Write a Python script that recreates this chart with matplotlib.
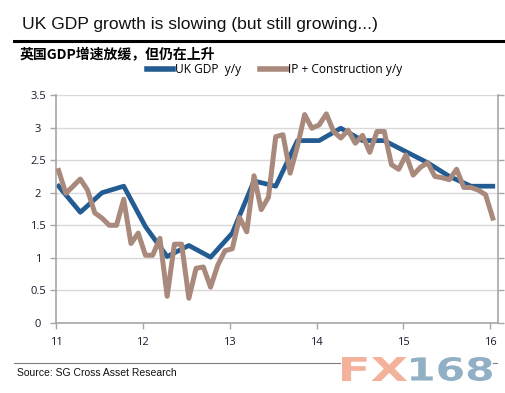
import matplotlib
matplotlib.use("Agg")
import numpy as np
import matplotlib.pyplot as plt
from matplotlib.textpath import TextPath
from matplotlib.patches import PathPatch
from matplotlib.font_manager import FontProperties
from matplotlib.transforms import Affine2D

# GDP y/y, quarterly
gdp_yy = [2.10, 1.70, 2.00, 2.10, 1.48, 1.02, 1.19, 1.01, 1.38, 2.18, 2.10,
          2.80, 2.80, 2.99, 2.80, 2.80, 2.63, 2.46, 2.25, 2.10, 2.10]

# IP + construction y/y, monthly
ip_con_yy = [2.34, 1.99, 2.10, 2.21, 2.04, 1.69, 1.61, 1.50, 1.50, 1.90,
             1.22, 1.38, 1.04, 1.04, 1.30, 0.41, 1.21, 1.21, 0.38, 0.84,
             0.86, 0.55, 0.89, 1.11, 1.14, 1.62, 1.40, 2.26, 1.74, 1.93,
             2.86, 2.89, 2.30, 2.71, 3.20, 2.99, 3.04, 3.21, 2.94, 2.84,
             2.96, 2.76, 2.88, 2.62, 2.94, 2.94, 2.43, 2.36, 2.58, 2.27,
             2.39, 2.46, 2.25, 2.23, 2.20, 2.36, 2.08, 2.08, 2.04, 1.97,
             1.61]

year_ticks = [11, 12, 13, 14, 15, 16]
y_ticks = [0, 0.5, 1, 1.5, 2, 2.5, 3, 3.5]
y_labels = ["0", "0.5", "1", "1.5", "2", "2.5", "3", "3.5"]

start = 11.03
x_gdp = start + np.arange(len(gdp_yy)) * 0.25
x_ip = start + np.arange(len(ip_con_yy)) / 12.0

blue = "#235B93"
brown = "#A8897B"

W, H = 505, 393
fig = plt.figure(figsize=(W/100, H/100), dpi=100)
ax = fig.add_axes([56/W, 1 - 323/H, (498 - 56)/W, (323 - 95)/H])

ax.plot(x_gdp, gdp_yy, color=blue, lw=3.4, zorder=2, label="UK GDP  y/y")
ax.plot(x_ip, ip_con_yy, color=brown, lw=3.6, zorder=3, label="IP + Construction y/y")

ax.set_xlim(11, 16.09)
ax.set_ylim(0, 3.5)
ax.set_yticks(y_ticks)
ax.set_yticklabels(y_labels)
ax.set_xticks(year_ticks)
ax.set_xticklabels([str(t) for t in year_ticks])
ax.grid(axis="y", color="#D9D9D9", lw=1)
ax.set_axisbelow(True)

ax.spines["top"].set_visible(False)
for s in ["left", "bottom", "right"]:
    ax.spines[s].set_color("#A6A6A6")
    ax.spines[s].set_linewidth(1.2)

ax.tick_params(axis="both", colors="#A6A6A6", length=4, width=1,
               labelcolor="#1a1a2e", labelsize=8)
ax.tick_params(axis="y", right=True, direction="out", pad=0)
ax.tick_params(axis="x", pad=6)
for lab in ax.get_yticklabels():
    lab.set_horizontalalignment("center")
    lab.set_x(-12.5/442)
for lab in ax.get_xticklabels() + ax.get_yticklabels():
    lab.set_fontfamily("Open Sans")

leg = fig.legend(loc="center left", bbox_to_anchor=(141/W, 1 - 70/H),
                 ncol=2, frameon=False, handlelength=2.2,
                 handletextpad=0.15, columnspacing=1.6, borderpad=0,
                 prop={"family": "Open Sans", "size": 8.6})
for ln in leg.get_lines():
    ln.set_linewidth(4)

fig.text(22/W, 1 - 24/H, "UK GDP growth is slowing (but still growing...)",
         fontsize=12.6, family="Liberation Sans", va="center", ha="left", color="#111111")
fig.add_artist(plt.Line2D([14/W, 1.0], [1 - 41/H, 1 - 41/H], color="black", lw=2.2))
fig.text(20/W, 1 - 55/H, "英国GDP增速放缓，但仍在上升", fontsize=10,
         family=["Noto Sans CJK SC", "DejaVu Sans"], weight="bold", va="center", ha="left")

fig.add_artist(plt.Line2D([14/W, 340/W], [1 - 363/H, 1 - 363/H], color="#808080", lw=0.8))
fig.add_artist(plt.Line2D([493/W, 497/W], [1 - 363/H, 1 - 363/H], color="#808080", lw=0.8))
fig.text(17/W, 1 - 373/H, "Source: SG Cross Asset Research", fontsize=7.5,
         family="Liberation Sans", va="center", ha="left", color="#111111")


# watermark, stretched to fit its box (pixel coords)
def wide_text(s, x0, x1, ytop, ybot, color):
    tp = TextPath((0, 0), s, size=40, prop=FontProperties(family="DejaVu Sans", weight="bold"))
    ext = tp.get_extents()
    sx = (x1 - x0) / ext.width
    sy = (ybot - ytop) / ext.height
    tr = Affine2D().translate(-ext.x0, -ext.y0).scale(sx, sy).translate(x0, H - ybot)
    fig.add_artist(PathPatch(tp, transform=tr, color=color, lw=0))


wide_text("FX", 342, 407, 357, 381, "#F3B29B")
wide_text("168", 411, 492, 357, 381, "#92B0C5")

fig.savefig("out.png", dpi=100, facecolor="white")
